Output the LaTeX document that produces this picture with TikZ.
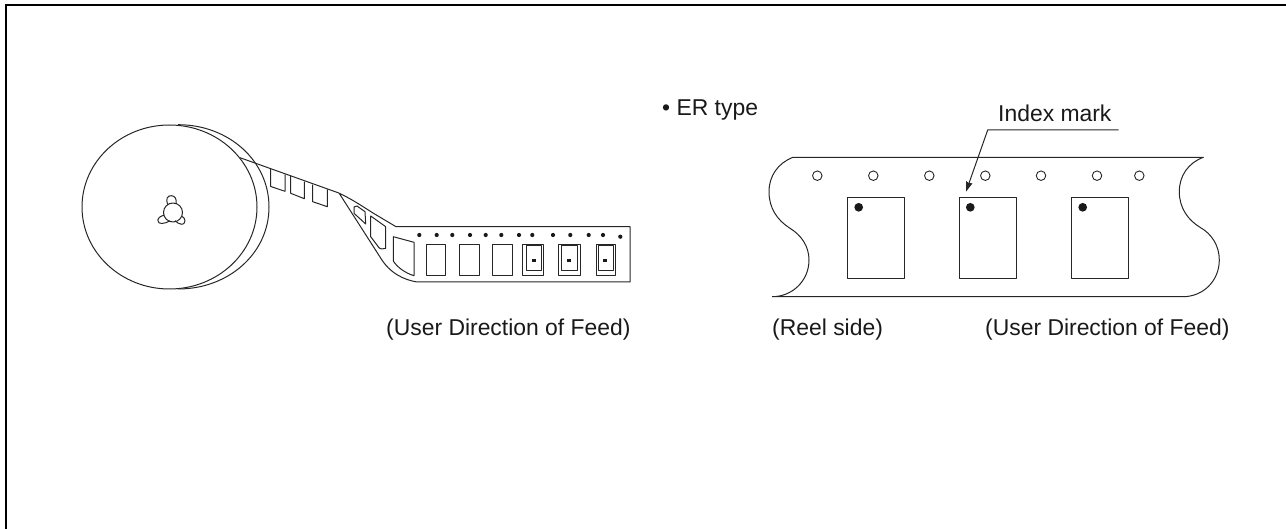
\documentclass[tikz,border=0pt]{standalone}
\usepackage{fontspec}
\setmainfont{Liberation Sans}
\usetikzlibrary{arrows.meta}
\tikzset{
  ln/.style={draw=black!85,line width=1pt,line join=round},
  frameline/.style={draw=black,line width=2pt},
  lbl/.style={inner sep=0pt,font=\fontsize{22.9}{26}\selectfont,text=black!90,anchor=base west},
  hole/.style={circle,draw=black!85,line width=0.9pt,minimum size=9.5pt,inner sep=0pt},
  blackdot/.style={circle,fill=black!90,minimum size=8.7pt,inner sep=0pt},
  smalldot/.style={circle,fill=black!90,minimum size=4.2pt,inner sep=0pt},
  sq/.style={rectangle,fill=black!90,minimum size=3.6pt,inner sep=0pt}
}
\begin{document}
\begin{tikzpicture}[x=1pt,y=-1pt]
\useasboundingbox (0,0) rectangle (1286,529);
\draw[frameline] (6,529) -- (6,5) -- (1286,5);
% reel
\draw[ln] (178,124.7) .. controls (229,124.7) and (269,161) .. (269,207)
  .. controls (269,253) and (229,289) .. (178,289);
\draw[ln] (169.5,207) ellipse[x radius=87.5pt,y radius=82pt];
% hub
\draw[ln] (168,205) .. controls (165,198) and (168,195.7) .. (171.3,195.7)
  .. controls (175,195.7) and (177,199) .. (176,204);
\draw[ln] (164.3,215) .. controls (160,216.5) and (157.7,218) .. (157.7,220)
  .. controls (157.7,223) and (160,223.5) .. (162,223.5)
  .. controls (165,223.5) and (168,222) .. (170,220.7);
\draw[ln] (181.7,216) .. controls (184,217.5) and (185,219) .. (185,221)
  .. controls (185,223.5) and (183,224.5) .. (181.5,224.3)
  .. controls (179,224) and (177,222.5) .. (175,220.7);
\draw[ln] (173,212.5) circle[radius=9.5pt];
% slanted tape
\draw[ln] (240,157.7) -- (338,192.7) .. controls (350,198) and (362,206) .. (373,213)
  -- (396,226.7) -- (630,226.7) -- (630,282) -- (417,282)
  .. controls (405,280) and (390,274) .. (380,257) -- (339,193);
% windows on slanted tape
\draw[ln] (270.7,169) -- (270.7,186.5) -- (285,191.3) -- (285,174.5);
\draw[ln] (290.7,176) -- (290.7,193.3) -- (304.3,198.7) -- (304.3,181.7);
\draw[ln] (312.7,184.7) -- (312.7,201.7) -- (327.3,206.7) -- (327.3,189.3);
\draw[ln] (354,207) -- (357,206) -- (365,211.7) -- (365.7,224) -- (354,213.3) -- cycle;
\draw[ln] (370.7,216) -- (385.7,226.7) -- (385.7,248.3) -- (381.7,249)
  .. controls (380,249) and (379,248) .. (377,245) -- (370.7,236.7) -- cycle;
\draw[ln] (393.3,236.7) -- (414,242.3) -- (414,275.7)
  .. controls (405,273) and (397,267) .. (393.3,261) -- cycle;
% pockets
\draw[ln] (426,244.3) rectangle (445.7,275.7);
\draw[ln] (459.3,244.3) rectangle (479.3,275.7);
\draw[ln] (492.3,244.3) rectangle (512.3,275.7);
\draw[ln] (522.3,244.3) rectangle (543.7,275.7);
\draw[ln] (526,245.7) rectangle (541.7,271);
\draw[ln] (558.7,244.3) rectangle (580.3,275.7);
\draw[ln] (561.7,245.7) rectangle (577.7,271);
\draw[ln] (596,244.3) rectangle (615.3,275.7);
\draw[ln] (598,245.7) rectangle (613.3,271);
\node[sq] (c1) at (534,260.7) {};
\node[sq] (c2) at (569,260.7) {};
\node[sq] (c3) at (605,260.7) {};
% sprocket dots left
\foreach \x in {419.3,436.7,452.3,470,485.7,501.3,519,532.3,553,570.3,588.7,603}
  \node[smalldot] at (\x,235) {};
\node[smalldot] at (620.3,236.7) {};
% right tape
\draw[ln] (793,157.3) -- (1203.3,157.3)
  .. controls (1188,163) and (1179.3,176) .. (1179.3,191.7)
  .. controls (1179.3,208) and (1188,220) .. (1200,227.3)
  .. controls (1212,234) and (1219.3,246) .. (1219.3,260)
  .. controls (1219.3,281) and (1203,296.7) .. (1183,296.7)
  -- (772.3,296.7)
  .. controls (792,296.7) and (809,281) .. (809,260)
  .. controls (809,246) and (801,235) .. (790,228.3)
  .. controls (777,220) and (769,208) .. (769,191.7)
  .. controls (769,176) and (778,163) .. (793,157.3);
\foreach \x in {817.3,873.3,929.3,985.3,1041,1097,1139.3}
  \node[hole] at (\x,175.7) {};
\draw[ln] (847.7,197.3) rectangle (904.3,278.3);
\draw[ln] (959.3,197.3) rectangle (1016.3,278.3);
\draw[ln] (1071.7,197.3) rectangle (1128.3,278.3);
\node[blackdot] (m1) at (858.7,207.3) {};
\node[blackdot] (m2) at (970.3,207.3) {};
\node[blackdot] (m3) at (1082.7,207.3) {};
% leader
\coordinate (legend) at (1118.7,130);
\coordinate (elbow) at (987.7,130);
\coordinate (tip) at (966,191.7);
\draw[ln,-{Stealth[length=10pt,width=6.5pt,inset=1pt]}] (legend) -- (elbow) -- (tip);
% labels
\node[lbl] (er) at (662,116) {• ER type};
\node[lbl] (idx) at (998,122) {Index mark};
\node[lbl] (feed1) at (386,336) {(User Direction of Feed)};
\node[lbl] (reel) at (772,336) {(Reel side)};
\node[lbl] (feed2) at (985,336) {(User Direction of Feed)};
\end{tikzpicture}
\end{document}
